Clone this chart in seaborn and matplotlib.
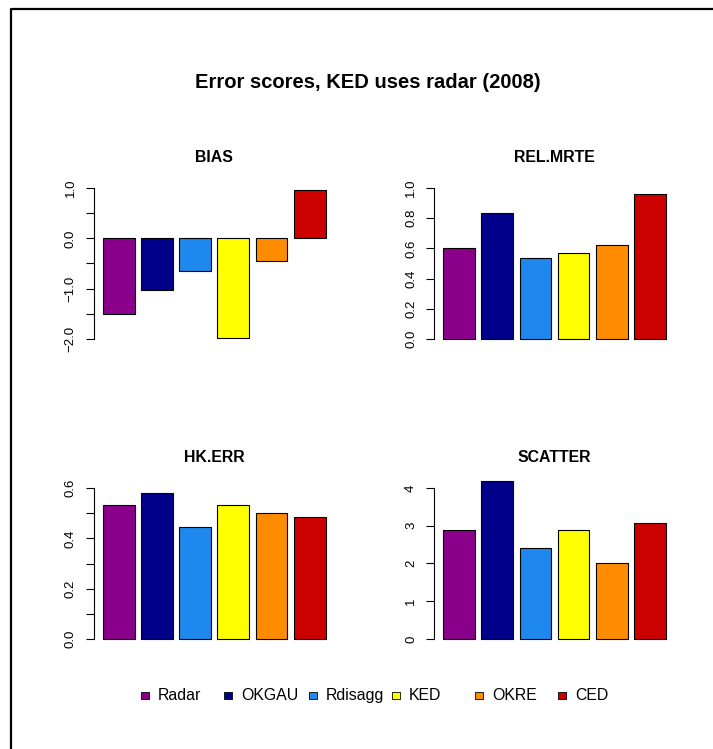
import matplotlib
matplotlib.use("Agg")
import matplotlib.pyplot as plt
import pandas as pd
import seaborn as sns
from matplotlib.lines import Line2D
from matplotlib.patches import Rectangle

# scores per interpolation method
models = ["Radar", "OKGAU", "Rdisagg", "KED", "OKRE", "CED"]
colors = ["#8B008B", "#00008B", "#1E88EE", "#FFFF00", "#FF8C00", "#CD0000"]

bias = [-1.50, -1.02, -0.66, -1.99, -0.45, 0.97]
rel_mrte = [0.603, 0.832, 0.536, 0.567, 0.625, 0.96]
hk_err = [0.532, 0.580, 0.445, 0.532, 0.500, 0.485]
scatter = [2.90, 4.19, 2.40, 2.90, 2.01, 3.08]

panels = [
    ("BIAS", bias, [-2, -1.5, -1, -0.5, 0, 0.5, 1], ["−2.0", "", "−1.0", "", "0.0", "", "1.0"], (-2.115, 1.042)),
    ("REL.MRTE", rel_mrte, [0, 0.2, 0.4, 0.6, 0.8, 1.0], ["0.0", "0.2", "0.4", "0.6", "0.8", "1.0"], (-0.036, 1.013)),
    ("HK.ERR", hk_err, [0, 0.1, 0.2, 0.3, 0.4, 0.5, 0.6], ["0.0", "", "0.2", "", "0.4", "", "0.6"], (-0.023, 0.608)),
    ("SCATTER", scatter, [0, 1, 2, 3, 4], ["0", "1", "2", "3", "4"], (-0.154, 4.053)),
]

W, H = 713, 749
sns.set_theme(style="white")
plt.rcParams["font.family"] = ["Liberation Sans", "DejaVu Sans"]
plt.rcParams["text.color"] = "black"
plt.rcParams["ytick.color"] = "black"
plt.rcParams["axes.titlecolor"] = "black"

fig = plt.figure(figsize=(W / 100, H / 100), dpi=100)

# axes boxes in pixel coords: (left, top, right, bottom)
boxes = [
    (94, 186, 334.5, 344.5),
    (434.4, 186, 674.6, 344.5),
    (94, 486, 334.5, 644.8),
    (434.4, 486, 674.6, 644.8),
]

for (title, vals, ticks, labels, ylim), (l, t, r, b) in zip(panels, boxes):
    ax = fig.add_axes([l / W, 1 - b / H, (r - l) / W, (b - t) / H])
    df = pd.DataFrame({"model": models, "value": vals})
    sns.barplot(
        data=df, x="model", y="value", hue="model", order=models,
        hue_order=models, palette=colors, saturation=1, width=1 / 1.2,
        edgecolor="black", linewidth=0.8, legend=False, ax=ax,
    )
    for p in ax.patches:
        p.set_clip_on(False)
    ax.set_xlim(-0.65, 5.65)
    ax.set_ylim(*ylim)
    ax.set_yticks(ticks)
    ax.set_yticklabels(labels)
    ax.set_xticks([])
    ax.set_xlabel("")
    ax.set_ylabel("")
    for s in ["top", "right", "bottom"]:
        ax.spines[s].set_visible(False)
    ax.spines["left"].set_bounds(ticks[0], ticks[-1])
    ax.spines["left"].set_color("black")
    ax.spines["left"].set_linewidth(0.8)
    ax.tick_params(axis="y", left=True, length=5.5, width=0.8, color="black",
                   labelcolor="black", pad=7, labelsize=9.5, labelrotation=90)
    for lab in ax.get_yticklabels():
        lab.set_va("center")
    ax.set_title(title, fontsize=11.4, fontweight="bold", pad=17.5, color="black")
    ax.patch.set_alpha(0)

fig.text(367.5 / W, 1 - 83 / H, "Error scores, KED uses radar (2008)",
         ha="center", va="center", fontsize=14.5, fontweight="bold", color="black")

# legend row
sq_x = [145, 228, 313, 396, 479, 562]
ly = 695.7
for x, name, c in zip(sq_x, models, colors):
    fig.add_artist(Rectangle(((x - 3.7) / W, 1 - (ly + 3.7) / H), 7.4 / W, 7.4 / H,
                             facecolor=c, edgecolor="black", linewidth=0.6,
                             transform=fig.transFigure))
    fig.text((x + 13) / W, 1 - ly / H, name, ha="left", va="center",
             fontsize=11.4, color="black")

# outer frame (only top/left visible in the crop)
fig.add_artist(Line2D([10.5 / W, 10.5 / W, 1.0], [0.0, 1 - 8.5 / H, 1 - 8.5 / H],
                      color="black", linewidth=1.6, transform=fig.transFigure))

fig.savefig("out.png", dpi=100)
